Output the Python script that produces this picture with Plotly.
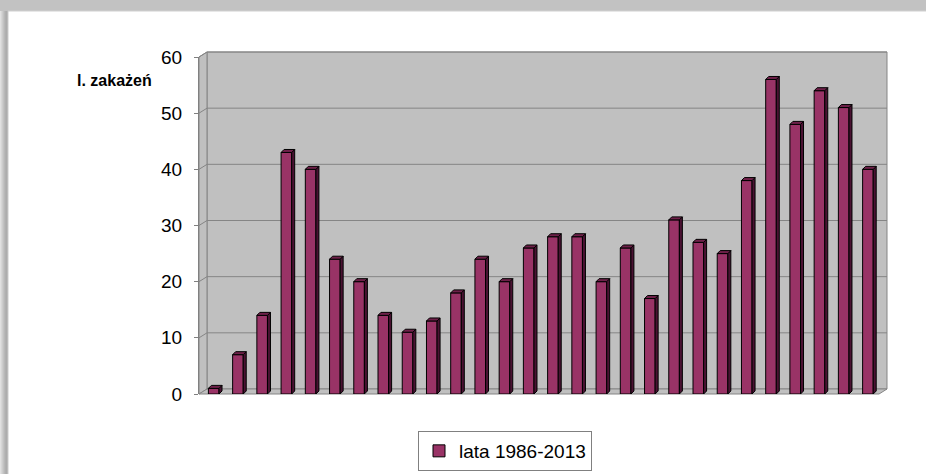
import plotly.graph_objects as go

# ---- data ----
years = list(range(1986, 2014))
cases = [1, 7, 14, 43, 40, 24, 20, 14, 11, 13, 18, 24, 20, 26, 28, 28,
         20, 26, 17, 31, 27, 25, 38, 56, 48, 54, 51, 40]
y_ticks = [0, 10, 20, 30, 40, 50, 60]
series_name = "lata 1986-2013"
y_title = "l. zakażeń"

# ---- layout geometry ----
W, H = 926, 474
L, R, T, B = 199, 47, 57, 80
pw, ph = W - L - R, H - T - B
YMAX = 60
scale = ph / YMAX            # px per unit


def px(x):
    return (x - L) / pw


def py(y):
    return (H - B - y) / ph


DX, DY = 8, 5                # wall depth in px
WALL = "#C0C0C0"
GRID = "#858585"
BAR = "#993366"
SIDE = "#4A1232"
TOP = "#6E2049"
PAGE_SHADOW = "#c2c2c2"

shapes = []

# white card on a grey page (shadow visible at top and left)
CARD_X, CARD_Y = 8, 11
shapes.append(dict(type="rect", xref="paper", yref="paper", x0=px(CARD_X), x1=px(W + 5),
                   y0=py(CARD_Y), y1=py(H + 5), fillcolor="white",
                   line=dict(color="#d0d0d0", width=1), layer="below"))
lefts = ["#e0e0e0", "#d6d6d6", "#cccccc", "#c2c2c2", "#b8b8b8", "#b0b0b0", "#acacac", "#bcbcbc"]
for i, c in enumerate(lefts):
    shapes.append(dict(type="rect", xref="paper", yref="paper", x0=px(i), x1=px(i + 1.05),
                       y0=py(CARD_Y), y1=py(H), fillcolor=c, line_width=0, layer="below"))

x_back0, x_back1 = L + DX, L + pw + DX
y_front0 = H - B
y_back0, y_back_top = y_front0 - DY, T - DY

# back wall
shapes.append(dict(type="rect", xref="paper", yref="paper", x0=px(x_back0), x1=px(x_back1),
                   y0=py(y_back0), y1=py(y_back_top), fillcolor=WALL,
                   line=dict(color=GRID, width=1), layer="below"))
# left wall
shapes.append(dict(type="path", xref="paper", yref="paper",
                   path=f"M{px(L)},{py(y_front0)} L{px(x_back0)},{py(y_back0)} "
                        f"L{px(x_back0)},{py(y_back_top)} L{px(L)},{py(T)} Z",
                   fillcolor=WALL, line=dict(color=GRID, width=1), layer="below"))
# floor
shapes.append(dict(type="path", xref="paper", yref="paper",
                   path=f"M{px(L)},{py(y_front0)} L{px(x_back0)},{py(y_back0)} "
                        f"L{px(x_back1)},{py(y_back0)} L{px(L + pw)},{py(y_front0)} Z",
                   fillcolor=WALL, line=dict(color=GRID, width=1), layer="below"))

# gridlines on walls
for v in y_ticks[1:]:
    yf = y_front0 - v * scale
    yb = yf - DY
    shapes.append(dict(type="line", xref="paper", yref="paper", x0=px(x_back0), x1=px(x_back1),
                       y0=py(yb), y1=py(yb), line=dict(color=GRID, width=1), layer="below"))
    shapes.append(dict(type="line", xref="paper", yref="paper", x0=px(L), x1=px(x_back0),
                       y0=py(yf), y1=py(yb), line=dict(color=GRID, width=1), layer="below"))

# bar 3D faces
HALF = 5.3
BD = 3
d = BD / scale
for yr, v in zip(years, cases):
    shapes.append(dict(type="path", xref="x", yref="y", xsizemode="pixel", xanchor=yr,
                       path=f"M{HALF},0 L{HALF + BD},{d} L{HALF + BD},{v + d} L{HALF},{v} Z",
                       fillcolor=SIDE, line=dict(color="black", width=1)))
    shapes.append(dict(type="path", xref="x", yref="y", xsizemode="pixel", xanchor=yr,
                       path=f"M{-HALF},{v} L{-HALF + BD},{v + d} L{HALF + BD},{v + d} L{HALF},{v} Z",
                       fillcolor=TOP, line=dict(color="black", width=1)))

unit = 24.23
x0_px = 213.7
xr0 = years[0] - (x0_px - L) / unit
xr1 = xr0 + pw / unit

fig = go.Figure()
fig.add_trace(go.Bar(x=years, y=cases, name=series_name, width=2 * HALF / unit,
                     marker=dict(color=BAR, line=dict(color="black", width=1)),
                     showlegend=True))

fig.update_layout(
    width=W, height=H,
    margin=dict(l=L, r=R, t=T, b=B, pad=0, autoexpand=False),
    paper_bgcolor=PAGE_SHADOW, plot_bgcolor="rgba(0,0,0,0)",
    font=dict(family="Liberation Sans, Arial, sans-serif", color="black"),
    shapes=shapes,
    showlegend=True,
    legend=dict(orientation="h", xref="container", yref="container",
                x=418 / W, xanchor="left", y=1 - 431 / H, yanchor="top",
                bordercolor="#808080", borderwidth=1, bgcolor="white",
                font=dict(size=19, color="black")),
    xaxis=dict(range=[xr0, xr1], showticklabels=False, showgrid=False, zeroline=False,
               showline=False, ticks="", fixedrange=True),
    yaxis=dict(range=[0, YMAX], tickvals=y_ticks, ticks="outside", ticklen=4,
               tickcolor="#808080", showline=True, linecolor="#808080", linewidth=1,
               showgrid=False, zeroline=False, tickfont=dict(size=19, color="black"),
               ticklabelstandoff=8, fixedrange=True),
    annotations=[dict(text=f"<b>{y_title}</b>", xref="paper", yref="paper",
                      x=px(154), xanchor="right", y=py(80), yanchor="middle",
                      showarrow=False, font=dict(size=16, color="black"))],
)

fig.write_html("out.html", config={"displayModeBar": False})
